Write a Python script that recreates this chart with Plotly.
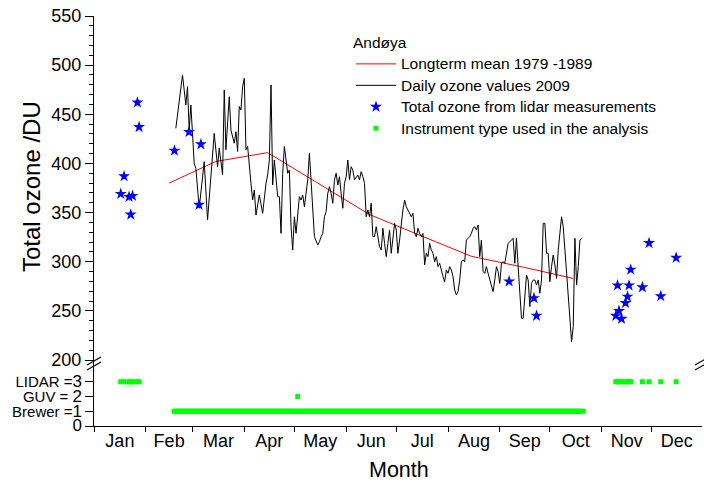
import pandas as pd
import plotly.graph_objects as go

YEAR_START = pd.Timestamp("2009-01-01")

# ---------------- data (day index: 0 = 1 Jan 2009) ----------------
# Longterm mean 1979-1989 (mid-month values, DU)
mean_days = [45, 73, 104, 134, 165, 195, 226, 257, 287]
mean_du = [380, 402, 411, 380, 348, 327, 305.5, 294.5, 283]

# Daily ozone values 2009 (DU)
ozone_days_early = [49, 53, 55, 56, 57, 58, 60, 61, 63, 66, 68, 72, 74, 75, 77, 78, 79, 81,
                    82, 84, 85, 86, 87, 88, 89, 90, 91, 92, 94, 95, 96, 97, 99, 101, 103, 104,
                    105, 106, 107, 108, 110, 111, 112, 113, 114, 115, 116, 117, 118, 119, 120,
                    121, 122, 123, 124, 125, 126, 127, 128, 129, 130, 131, 132, 134, 135, 136,
                    137, 138, 139, 140, 141, 142, 143, 144, 145, 146]
ozone_du_early = [435.7, 490, 459.5, 478.1, 434, 459.5, 400.1, 395, 354.4, 401.8, 342.6, 430.6,
                  396.7, 415.4, 388.3, 474.7, 413.9, 467.9,
                  434, 420.5, 432.3, 412.2, 457.9, 454.4, 478.1, 486.6, 413.9, 417.3, 379.8,
                  362.8, 373, 347.6, 367.9, 349.3, 379.8, 388.3, 403.5, 479.8, 378.1, 403.5,
                  366.2, 366.2, 328.9, 390, 417.3, 403.5, 390, 393.3, 335.7, 311.9, 345.8,
                  328.9, 349.3, 366.2, 362.8, 367.9, 356, 367.9, 383.2, 410.5, 383.2, 349.3,
                  325.5, 317, 320.4, 325.5, 328.9, 345.8, 351, 369.6, 376.4, 369.6, 359.5,
                  383.2, 390, 378.1]
# consecutive daily values from day 147 to day 292
ozone_first_daily_day = 147
ozone_du_daily = [386.5, 369.6, 354.4, 379.8, 386.5, 403.5, 383.2, 396.7, 393.3, 383.2,
                  386.5, 388.3, 383.2, 391.6, 386.5, 379.8, 345.8, 352.6, 345.8, 359.5,
                  325.5, 325.5, 335.7, 323.8, 315.3, 311.9, 334, 318.7, 305.2, 318.7,
                  332.3, 308.6, 325.5, 339.1, 332.3, 308.6, 322.1, 339.1, 352.6, 362.8,
                  356, 352.6, 349.3, 345.8, 349.3, 328.9, 325.5, 334, 328.9, 325.5,
                  328.9, 296.7, 308.6, 305.2, 318.7, 311.9, 308.6, 300, 305.2, 295,
                  298.4, 289.9, 284.8, 279.7, 291.6, 288.2, 295, 291.6, 284.8, 271.3,
                  266.2, 269.6, 281.4, 300, 301.8, 300, 322.1, 323.8, 325.5, 328.9,
                  334, 335.7, 332.3, 337.4, 305.2, 322.1, 289.9, 288.2, 295, 288.2,
                  281.4, 276.4, 269.6, 281.4, 295, 289.9, 278, 298.4, 300, 298.4,
                  308.6, 318.7,
                  320.4, 322.1, 323.8, 298.4, 323.8, 295, 267.9, 242.5, 242.5, 264.5,
                  286.5, 281.4, 254.3, 278, 281.4, 281.4, 276.4, 281.4, 267.9, 281.4,
                  339.1, 339.1, 308.6, 308.6, 279.7, 295, 306.9, 296.7, 283.1, 311.9,
                  328.9, 345.8, 335.7, 311.9, 288.2, 264.5, 234, 218.7, 234, 323.8,
                  276.4, 295, 322.1, 323.8]

# Total ozone from lidar measurements (DU)
lidar_days = [16, 18, 21, 22, 23.1, 26, 27, 48.2, 56.9, 62.9, 64, 248.6, 263.5, 265,
              312.5, 313.5, 314.4, 315.9, 318.3, 319.5, 320.4, 321.4, 328.4, 332.4, 339.4, 348.6]
lidar_du = [369, 387, 366, 348, 367, 462, 437, 413, 432, 358, 419.5, 280, 263, 245,
            245, 276, 250, 242, 258, 264.5, 276, 292, 274, 319, 265, 304]

# Instrument type used (LIDAR = 3, GUV = 2, Brewer = 1)
instr_lidar_days = [16, 18, 21, 22, 23.1, 26, 27, 312.5, 313.5, 314.4, 315.9, 318.3,
                    319.5, 320.4, 321.4, 328.4, 332.4, 339.4, 348.6]
instr_guv_days = [122]
instr_brewer_first, instr_brewer_last = 48, 291
instr_brewer_extra = [293]

lower_tick_words = ["", "Brewer =", "GUV = ", "LIDAR ="]
lower_tick_digits = ["0", "1", "2", "3"]

series_names = ["Longterm mean 1979 -1989", "Daily ozone values 2009",
                "Total ozone from lidar measurements", "Instrument type used in the analysis"]

# ---------------- build ----------------
def to_dates(days):
    return [YEAR_START + pd.Timedelta(days=float(d)) for d in days]

ozone_days = ozone_days_early + list(range(ozone_first_daily_day,
                                          ozone_first_daily_day + len(ozone_du_daily)))
ozone_du = ozone_du_early + ozone_du_daily

brewer_days = [d for d in range(instr_brewer_first, instr_brewer_last + 1)
               if d not in instr_guv_days] + instr_brewer_extra
instr_days = instr_lidar_days + instr_guv_days + brewer_days
instr_vals = [3] * len(instr_lidar_days) + [2] * len(instr_guv_days) + [1] * len(brewer_days)

FONT = "Liberation Sans, Arial, sans-serif"
LEG_SIZE = 15.5


def leg(name):
    return f'<span style="font-size:{LEG_SIZE}px">{name}</span>'


lower_ticktext = [f'{w}<span style="font-size:17px">{d}</span>'
                  for w, d in zip(lower_tick_words, lower_tick_digits)]

fig = go.Figure()
fig.add_trace(go.Scatter(x=to_dates(mean_days), y=mean_du, mode="lines",
                         line=dict(color="#ff0000", width=1),
                         name=leg(series_names[0]), xaxis="x", yaxis="y"))
fig.add_trace(go.Scatter(x=to_dates(ozone_days), y=ozone_du, mode="lines",
                         line=dict(color="#000000", width=1),
                         name=leg(series_names[1]), xaxis="x", yaxis="y"))
fig.add_trace(go.Scatter(x=to_dates(lidar_days), y=lidar_du, mode="markers",
                         marker=dict(symbol="star", size=9, color="#0000ff"),
                         name=leg(series_names[2]), xaxis="x", yaxis="y"))
fig.add_trace(go.Scatter(x=to_dates(instr_days), y=instr_vals, mode="markers",
                         marker=dict(symbol="square", size=5, color="#00ff00"),
                         name=leg(series_names[3]), xaxis="x", yaxis="y2"))

L, R, T, B = 94, 2, 16, 57
W, H = 704, 483
PW, PH = W - L - R, H - T - B
split = 64 / PH
xrange_ = [YEAR_START, YEAR_START + pd.Timedelta(days=364.1)]

axis_common = dict(showline=True, linecolor="black", linewidth=1, showgrid=False,
                   zeroline=False, tickcolor="black", automargin=False)

fig.update_layout(
    width=W, height=H,
    margin=dict(l=L, r=R, t=T, b=B, autoexpand=False),
    paper_bgcolor="white", plot_bgcolor="white",
    font=dict(family=FONT, color="black"),
    showlegend=True,
    xaxis=dict(type="date", range=xrange_, domain=[0, 1], anchor="y2",
               ticks="outside", ticklen=5, dtick="M1", tick0="2009-01-01",
               tickformat="%b", ticklabelmode="period", ticklabelstandoff=-7,
               tickfont=dict(size=18, family=FONT), **axis_common),
    xaxis2=dict(type="date", range=xrange_, overlaying="x", side="top", anchor="y",
                ticks="inside", ticklen=6, dtick="M1", tick0="2009-01-01",
                showticklabels=False, **axis_common),
    yaxis=dict(domain=[split, 1], range=[198, 550], anchor="x",
               ticks="outside", ticklen=8, tick0=200, dtick=50,
               minor=dict(dtick=10, tick0=200, ticks="outside", ticklen=4, tickcolor="black"),
               tickfont=dict(size=18, family=FONT), **axis_common),
    yaxis3=dict(range=[198, 550], overlaying="y", side="right", anchor="x",
                ticks="inside", ticklen=8, tick0=200, dtick=50, showticklabels=False,
                minor=dict(dtick=10, tick0=200, ticks="inside", ticklen=4, tickcolor="black"),
                **axis_common),
    yaxis2=dict(domain=[0, split], range=[0, 4.34], anchor="x",
                ticks="outside", ticklen=8, tickvals=[0, 1, 2, 3], ticktext=lower_ticktext,
                tickfont=dict(size=15, family=FONT), **axis_common),
    yaxis4=dict(range=[0, 4.34], overlaying="y2", side="right", anchor="x",
                ticks="inside", ticklen=8, tickvals=[0, 1, 2, 3], showticklabels=False,
                **axis_common),
    legend=dict(x=(351 - L) / PW, y=(H - B - 28) / PH, xanchor="left", yanchor="top",
                bgcolor="rgba(0,0,0,0)", itemwidth=40,
                font=dict(size=14.2, family=FONT),
                title=dict(text="Andøya", font=dict(size=LEG_SIZE, family=FONT))),
)

def px(xp):
    return (xp - L) / PW

def py(yp):
    return (H - B - yp) / PH

shapes = []
for x0 in (L, W - R):
    for dy in (0, 5):
        shapes.append(dict(type="line", xref="paper", yref="paper",
                           x0=px(x0 - 7), y0=py(365 + dy), x1=px(x0 + 7), y1=py(357 + dy),
                           line=dict(color="black", width=1.2)))
fig.update_layout(shapes=shapes)

fig.add_annotation(text="Total ozone /DU", textangle=-90, xref="paper", yref="paper",
                   x=px(31), y=py(187), xanchor="center", yanchor="middle",
                   showarrow=False, font=dict(size=24, family=FONT))
fig.add_annotation(text="Month", xref="paper", yref="paper",
                   x=px(399), y=py(470), xanchor="center", yanchor="middle",
                   showarrow=False, font=dict(size=21.5, family=FONT))

fig.write_html("out.html", config={"displayModeBar": False},
               post_script="document.body.style.margin='0';"
                           "document.body.style.overflow='hidden';")
